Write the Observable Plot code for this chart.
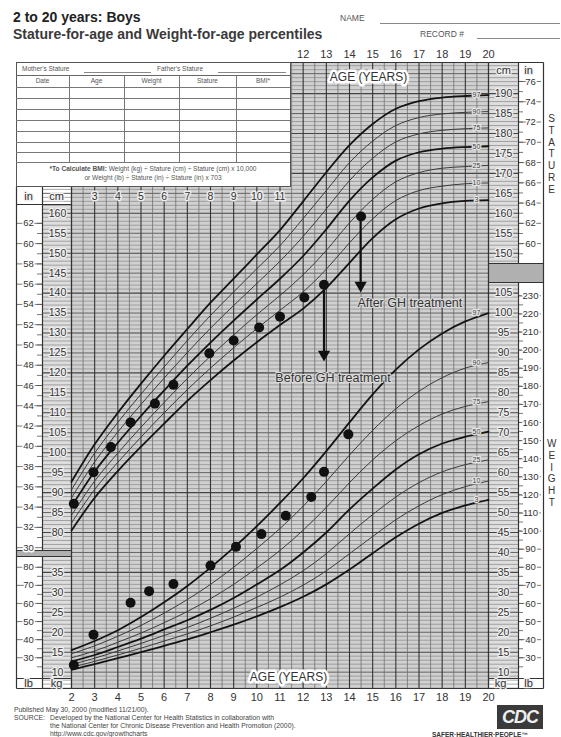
<!DOCTYPE html>
<html><head><meta charset="utf-8">
<script src="https://cdn.jsdelivr.net/npm/d3@7"></script>
<script src="https://cdn.jsdelivr.net/npm/@observablehq/plot@0.6"></script>
<style>
html,body{margin:0;padding:0;background:#fff;}
#wrap{position:relative;width:561px;height:737px;overflow:hidden;font-family:"Liberation Sans",Arial,Helvetica,sans-serif;color:#222;}
#wrap > svg{position:absolute;left:0;top:0;}
.t{position:absolute;white-space:nowrap;line-height:1;}
</style></head>
<body><div id="wrap"></div>
<script>
// ================= DATA =================
const ages = [2,3,4,5,6,7,8,9,10,11,12,13,14,15,16,17,18,19,20];
const percentiles = ["3","10","25","50","75","90","97"];
const majorPercentiles = ["3","50","97"];

// Stature-for-age (cm)
const statureP3  = [80.5,88.7,95.4,101.5,107.3,113.0,118.2,123.1,127.7,132.0,136.1,141.3,147.6,153.8,158.5,161.2,162.5,163.1,163.3];
const statureP10 = [82.4,90.8,97.6,103.9,110.0,115.8,121.2,126.3,131.1,135.7,140.3,146.0,152.6,158.6,163.2,165.7,166.8,167.4,167.6];
const statureP25 = [84.3,92.9,99.9,106.4,112.6,118.6,124.2,129.5,134.6,139.4,144.6,150.7,157.6,163.5,167.9,170.2,171.3,171.7,172.0];
const statureP50 = [86.5,95.3,102.5,109.2,115.6,121.8,127.6,133.1,138.4,143.6,149.3,156.0,163.2,169.0,173.2,175.3,176.2,176.6,176.8];
const statureP75 = [88.7,97.7,105.2,112.1,118.7,125.1,131.2,136.9,142.4,148.0,154.2,161.1,168.2,173.8,177.9,179.9,180.8,181.2,181.4];
const statureP90 = [90.7,99.9,107.6,114.7,121.5,128.1,134.4,140.3,146.1,151.9,158.7,165.7,172.7,178.1,182.0,184.0,184.9,185.3,185.5];
const statureP97 = [92.7,102.1,110.0,117.3,124.3,131.0,137.6,143.6,149.7,155.8,163.0,170.3,177.1,182.4,186.2,188.1,189.0,189.4,189.6];

// Weight-for-age (kg)
const weightP3  = [10.6,12.0,13.5,15.0,16.6,18.2,20.0,21.9,24.0,26.3,28.9,32.0,35.7,39.8,43.8,47.2,49.9,51.8,53.2];
const weightP10 = [11.2,12.7,14.3,16.0,17.8,19.6,21.6,23.8,26.2,28.8,31.8,35.4,39.7,44.0,48.2,51.7,54.5,56.5,57.9];
const weightP25 = [11.9,13.5,15.3,17.2,19.2,21.2,23.5,26.0,28.8,31.9,35.4,39.7,44.7,49.5,53.9,57.5,60.2,62.0,63.2];
const weightP50 = [12.7,14.3,16.3,18.4,20.7,23.0,25.6,28.6,32.0,35.6,40.0,45.0,50.8,56.0,60.8,64.6,67.3,69.0,70.3];
const weightP75 = [13.6,15.3,17.5,19.8,22.4,25.2,28.4,32.0,36.1,40.5,45.6,51.3,57.5,63.2,68.0,71.8,74.7,76.6,77.8];
const weightP90 = [14.6,16.6,19.0,21.7,24.8,28.2,32.0,36.3,41.0,46.0,51.6,57.8,64.4,70.6,76.0,80.4,83.8,86.2,87.6];
const weightP97 = [15.5,17.8,20.5,23.8,27.5,31.6,36.2,41.2,46.6,52.4,58.6,65.4,72.6,79.6,85.8,90.9,94.9,97.9,100.0];

// Patient measurements
const patientStatureAge = [2.1,2.95,3.7,4.55,5.6,6.4,7.95,9.0,10.1,11.0,12.05,12.9,14.5];
const patientStatureCm  = [87.2,95.1,101.4,107.6,112.3,117.0,124.9,128.1,131.4,134.1,138.9,142.1,159.2];
const patientWeightAge  = [2.1,2.95,4.55,5.35,6.4,8.0,9.1,10.2,11.25,12.35,12.9,13.95];
const patientWeightKg   = [11.8,19.4,27.4,30.3,32.1,36.7,41.4,44.6,49.2,53.9,60.2,69.6];

// Annotations
const arrowAge    = [12.9,14.48];
const arrowFromCm = [142.1,159.2];
const arrowToCm   = [123.9,141.2];
const noteText = ["Before GH treatment","After GH treatment"];
const noteAge  = [10.8,14.34];
const noteCm   = [118.6,137.4];

// Tick labels
const topAgeTicks = [12,13,14,15,16,17,18,19,20];
const bottomAgeTicks = [2,3,4,5,6,7,8,9,10,11,12,13,14,15,16,17,18,19,20];
const leftHeaderAgeTicks = [3,4,5,6,7,8,9,10,11];
const leftCmTicks = [80,85,90,95,100,105,110,115,120,125,130,135,140,145,150,155,160];
const leftInTicks = [30,32,34,36,38,40,42,44,46,48,50,52,54,56,58,60,62];
const rightCmTicks = [150,155,160,165,170,175,180,185,190];
const rightInTicks = [60,62,64,66,68,70,72,74,76];
const leftKgTicks = [10,15,20,25,30,35];
const leftLbTicks = [30,40,50,60,70,80];
const rightKgTicks = [10,15,20,25,30,35,40,45,50,55,60,65,70,75,80,85,90,95,100,105];
const rightLbTicks = [30,40,50,60,70,80,90,100,110,120,130,140,150,160,170,180,190,200,210,220,230];

// ================= BUILD =================
const wrap = document.getElementById("wrap");
const X = d3.scaleLinear([2,20],[71,488]);
const Y = d3.scaleLinear([80,160],[532,212.8]);
const ax = p => X.invert(p);   // page px -> age
const cy = p => Y.invert(p);   // page px -> cm
const KG = 35;                 // kg share the stature scale: kg + 35 -> cm position
const LB = 0.45359237, IN = 2.54;

const statureSeries = [statureP3,statureP10,statureP25,statureP50,statureP75,statureP90,statureP97];
const weightSeries  = [weightP3,weightP10,weightP25,weightP50,weightP75,weightP90,weightP97];
const statureRows = [], weightRows = [];
percentiles.forEach((p,i) => ages.forEach((a,j) => {
  statureRows.push({pct:p, age:a, v:statureSeries[i][j], major:majorPercentiles.includes(p)});
  weightRows.push({pct:p, age:a, v:weightSeries[i][j]+KG, major:majorPercentiles.includes(p)});
}));
const statureEnd = percentiles.map((p,i) => ({pct:p, v:statureSeries[i][ages.length-1]}));
const weightEnd  = percentiles.map((p,i) => ({pct:p, v:weightSeries[i][ages.length-1]+KG}));
const patS = patientStatureAge.map((a,i) => ({age:a, v:patientStatureCm[i]}));
const patW = patientWeightAge.map((a,i) => ({age:a, v:patientWeightKg[i]+KG}));
const arrows = arrowAge.map((a,i) => ({age:a, from:arrowFromCm[i], to:arrowToCm[i]}));
const notes = noteText.map((t,i) => ({text:t, age:noteAge[i], v:noteCm[i]}));

// layout structures (page pixels)
const bgRects = [[71,186,488,688],[290,62,488,186]];
const colRects = [[42,204,71,550],[42,556,71,678],[488,62,518,263],[488,282,518,678]];
const whiteRects = [[16,204,42,550],[16,556,42,678],[518,62,543,263],[518,282,543,678]];
const bandRects = [[16,550,71,556],[488,263,543,282]];
const segs = [
 [16,62,543,62],[543,62,543,688],[16,688,543,688],[16,186,16,688],
 [42,186,42,550],[42,556,42,688],[71,186,71,688],[16,204,71,204],
 [16,550,71,550],[16,556,71,556],[16,678,71,678],
 [488,62,488,688],[518,62,518,263],[518,282,518,688],
 [488,263,543,263],[488,282,543,282],[488,678,543,678]
];
const hLines = d3.range(41,198).map(v => ({v, x1: Y(v) < 186 ? 290 : 42}));
const vLines = d3.range(2,20.01,0.5).map(a => ({a, top: a >= 11.5 ? 62 : 186}));
const rectOpt = (fill) => ({x1:d=>ax(d[0]), y1:d=>cy(d[1]), x2:d=>ax(d[2]), y2:d=>cy(d[3]), fill});

// in/lb column tick marks
const inTicksL = d3.range(31,63).map(v => v*IN).filter(v => Y(v) > 206 && Y(v) < 549);
const inTicksR = d3.range(59,77).map(v => v*IN).filter(v => Y(v) > 64 && Y(v) < 262);
const lbTicksL = d3.range(25,85,5).map(v => v*LB+KG).filter(v => Y(v) > 558 && Y(v) < 676);
const lbTicksR = d3.range(25,235,5).map(v => v*LB+KG).filter(v => Y(v) > 284 && Y(v) < 676);

const halo = (c="#fff", w=3) => ({stroke:c, strokeWidth:w, paintOrder:"stroke"});
const lab = {fill:"#333", fontSize:10.5};

const chart = Plot.plot({
  width:561, height:737, margin:0,
  x:{domain:[2,20], range:[71,488], axis:null},
  y:{domain:[80,160], range:[532,212.8], axis:null},
  style:{fontFamily:"'Liberation Sans', Arial, sans-serif", background:"transparent", overflow:"visible"},
  marks:[
    Plot.rect(bgRects, rectOpt("#d0d0d0")),
    Plot.rect(colRects, rectOpt("#dedede")),
    // horizontal grid
    Plot.ruleY(hLines.filter(d => d.v % 5 !== 0), {y:"v", x1:d=>ax(d.x1), x2:ax(518), stroke:"#909090", strokeWidth:0.8}),
    Plot.ruleY(hLines.filter(d => d.v % 5 === 0 && d.v % 10 !== 0), {y:"v", x1:d=>ax(d.x1), x2:ax(518), stroke:"#626262", strokeWidth:1}),
    Plot.ruleY(hLines.filter(d => d.v % 10 === 0), {y:"v", x1:d=>ax(d.x1), x2:ax(518), stroke:"#444", strokeWidth:1.1}),
    // vertical grid
    Plot.ruleX(vLines.filter(d => d.a % 1 !== 0), {x:"a", y1:cy(688), y2:d=>cy(d.top), stroke:"#707070", strokeWidth:0.8}),
    Plot.ruleX(vLines.filter(d => d.a % 1 === 0), {x:"a", y1:cy(688), y2:d=>cy(d.top), stroke:"#353535", strokeWidth:1.1}),
    Plot.rect(whiteRects, rectOpt("#fff")),
    Plot.rect(bandRects, rectOpt("#b0b0b0")),
    // in / lb ticks
    Plot.ruleY(inTicksL, {y:d=>d, x1:ax(37), x2:ax(42), stroke:"#555", strokeWidth:0.8}),
    Plot.ruleY(leftInTicks.map(v=>v*IN), {y:d=>d, x1:ax(17), x2:ax(42), stroke:"#555", strokeWidth:0.8}),
    Plot.ruleY(inTicksR, {y:d=>d, x1:ax(518), x2:ax(523), stroke:"#555", strokeWidth:0.8}),
    Plot.ruleY(rightInTicks.map(v=>v*IN), {y:d=>d, x1:ax(518), x2:ax(541), stroke:"#555", strokeWidth:0.8}),
    Plot.ruleY(lbTicksL, {y:d=>d, x1:ax(37), x2:ax(42), stroke:"#555", strokeWidth:0.8}),
    Plot.ruleY(leftLbTicks.map(v=>v*LB+KG), {y:d=>d, x1:ax(17), x2:ax(42), stroke:"#555", strokeWidth:0.8}),
    Plot.ruleY(lbTicksR, {y:d=>d, x1:ax(518), x2:ax(523), stroke:"#555", strokeWidth:0.8}),
    Plot.ruleY(rightLbTicks.map(v=>v*LB+KG), {y:d=>d, x1:ax(518), x2:ax(541), stroke:"#555", strokeWidth:0.8}),
    // frame
    Plot.link(segs, {x1:d=>ax(d[0]), y1:d=>cy(d[1]), x2:d=>ax(d[2]), y2:d=>cy(d[3]), stroke:"#333", strokeWidth:1.2}),
    // percentile curves
    Plot.line(statureRows.filter(d=>!d.major), {x:"age", y:"v", z:"pct", curve:"catmull-rom", stroke:"#3a3a3a", strokeWidth:1}),
    Plot.line(statureRows.filter(d=>d.major), {x:"age", y:"v", z:"pct", curve:"catmull-rom", stroke:"#141414", strokeWidth:1.8}),
    Plot.line(weightRows.filter(d=>!d.major), {x:"age", y:"v", z:"pct", curve:"catmull-rom", stroke:"#3a3a3a", strokeWidth:1}),
    Plot.line(weightRows.filter(d=>d.major), {x:"age", y:"v", z:"pct", curve:"catmull-rom", stroke:"#141414", strokeWidth:1.8}),
    Plot.text(statureEnd, {x:ax(476), y:"v", text:"pct", fontSize:7, fill:"#444", ...halo("#e2e2e2",2.5)}),
    Plot.text(weightEnd, {x:ax(476), y:"v", text:"pct", fontSize:7, fill:"#444", ...halo("#e2e2e2",2.5)}),
    // axis labels
    Plot.text(topAgeTicks, {x:d=>d, y:cy(54), text:d=>d, fontSize:11, fill:"#333"}),
    Plot.text(bottomAgeTicks, {x:d=>d, y:cy(697), text:d=>d, fontSize:11, fill:"#333"}),
    Plot.text(leftHeaderAgeTicks, {x:d=>d, y:cy(196), text:d=>d, fontSize:10.5, fill:"#333", ...halo("#eee",3)}),
    Plot.text(leftCmTicks, {x:ax(57), y:d=>d, text:d=>d, ...lab, ...halo("#f0f0f0",2.5)}),
    Plot.text(leftInTicks, {x:ax(28), y:d=>d*IN, text:d=>d, fill:"#333", fontSize:9.5, ...halo()}),
    Plot.text(rightCmTicks, {x:ax(503), y:d=>d, text:d=>d, ...lab, ...halo("#f0f0f0",2.5)}),
    Plot.text(rightInTicks, {x:ax(530), y:d=>d*IN, text:d=>d, fill:"#333", fontSize:9.5, ...halo()}),
    Plot.text(leftKgTicks, {x:ax(57), y:d=>d+KG, text:d=>d, ...lab, ...halo("#f0f0f0",2.5)}),
    Plot.text(leftLbTicks, {x:ax(28), y:d=>d*LB+KG, text:d=>d, fill:"#333", fontSize:9.5, ...halo()}),
    Plot.text(rightKgTicks, {x:ax(503), y:d=>d+KG, text:d=>d, ...lab, ...halo("#f0f0f0",2.5)}),
    Plot.text(rightLbTicks, {x:ax(530), y:d=>d*LB+KG, text:d=>d, fill:"#333", fontSize:9.5, ...halo()}),
    Plot.text([["in",28,196],["cm",56,196],["cm",503,70],["in",528,70],["lb",28,683],["kg",56,683],["kg",500,683],["lb",528,683]],
      {x:d=>ax(d[1]), y:d=>cy(d[2]), text:d=>d[0], fontSize:11, fill:"#333", ...halo("#f0f0f0",2.5)}),
    Plot.text(["AGE (YEARS)"], {x:ax(368), y:cy(77), text:d=>d, fontSize:12, fill:"#333", ...halo("#fff",5)}),
    Plot.text(["AGE (YEARS)"], {x:ax(288), y:cy(677), text:d=>d, fontSize:12, fill:"#333", ...halo("#fff",5)}),
    // patient data
    Plot.link(arrows, {x1:"age", x2:"age", y1:"from", y2:"to", stroke:"#111", strokeWidth:2.2}),
    Plot.dot(arrows, {x:"age", y:"to", symbol:"triangle", rotate:180, r:3.6, dy:-3, fill:"#111", stroke:"#111"}),
    Plot.dot(patS, {x:"age", y:"v", r:5, fill:"#111"}),
    Plot.dot(patW, {x:"age", y:"v", r:5, fill:"#111"}),
    Plot.text(notes, {x:"age", y:"v", text:"text", textAnchor:"start", fontSize:12.5, fill:"#333", ...halo("#dcdcdc",2)})
  ]
});
wrap.appendChild(chart);

// ================= HTML ANNOTATIONS =================
function add(html, css){ const d=document.createElement("div"); d.className="t"; d.innerHTML=html; d.style.cssText+=css; wrap.appendChild(d); return d; }
function hline(x1,x2,y,c="#777"){ add("", `left:${x1}px;top:${y}px;width:${x2-x1}px;height:0;border-top:1px solid ${c}`); }
function vline(x,y1,y2,c="#777"){ add("", `left:${x}px;top:${y1}px;width:0;height:${y2-y1}px;border-left:1px solid ${c}`); }

add("2 to 20 years: Boys", "left:13px;top:10px;font-weight:bold;font-size:14px;color:#222");
add("Stature-for-age and Weight-for-age percentiles", "left:13px;top:27px;font-weight:bold;font-size:14px;color:#3a3a3a");
add("NAME", "left:340px;top:14px;font-size:8.5px;color:#555");
hline(380,560,23,"#888");
add("RECORD #", "left:420px;top:30px;font-size:8.5px;color:#555");
hline(477,560,38,"#888");

// measurement table
add("", "left:16px;top:62px;width:273px;height:123px;border:1px solid #555;background:#fff");
add("Mother's Stature", "left:22px;top:66px;font-size:6.5px;color:#555");
hline(84,151,72,"#888");
add("Father's Stature", "left:157px;top:66px;font-size:6.5px;color:#555");
hline(218,286,72,"#888");
hline(16,290,75,"#666");
const tableCols = ["Date","Age","Weight","Stature","BMI*"];
const colEdges = [16,69,124,179,236,290];
tableCols.forEach((c,i) => add(c, `left:${colEdges[i]}px;width:${colEdges[i+1]-colEdges[i]}px;top:78px;text-align:center;font-size:6.5px;color:#555`));
[87,97.5,108.5,119.5,130.5,141.5,152,162].forEach(y => hline(16,290,y,"#777"));
colEdges.slice(1,-1).forEach(x => vline(x,75,162,"#777"));
add("<b>*To Calculate BMI:</b> Weight (kg) ÷ Stature (cm) ÷ Stature (cm) x 10,000", "left:16px;width:274px;top:166px;text-align:center;font-size:6.6px;color:#555");
add("or Weight (lb) ÷ Stature (in) ÷ Stature (in) x 703", "left:16px;width:274px;top:175px;text-align:center;font-size:6.6px;color:#555");

// side words
add("S<br>T<br>A<br>T<br>U<br>R<br>E", "left:548px;top:113px;font-size:10px;line-height:11.8px;color:#333;text-align:center");
add("W<br>E<br>I<br>G<br>H<br>T", "left:547px;top:438px;font-size:10px;line-height:11.8px;color:#333;text-align:center");

// footer
add("Published May 30, 2000 (modified 11/21/00).", "left:14px;top:707px;font-size:6.8px;color:#444");
add("SOURCE:", "left:14px;top:715px;font-size:6.8px;color:#444");
add("Developed by the National Center for Health Statistics in collaboration with", "left:50px;top:715px;font-size:6.8px;color:#444");
add("the National Center for Chronic Disease Prevention and Health Promotion (2000).", "left:50px;top:723px;font-size:6.8px;color:#444");
add("http://www.cdc.gov/growthcharts", "left:50px;top:731px;font-size:6.8px;color:#444");
add("CDC", "left:497px;top:705px;width:46px;height:24px;background:#3a3a3a;color:#eee;font-weight:bold;font-style:italic;font-size:18px;line-height:24px;text-align:center;letter-spacing:-1px");
add("SAFER·HEALTHIER·PEOPLE™", "left:432px;top:732px;font-size:6.5px;font-weight:bold;color:#333");
</script>
</body></html>
